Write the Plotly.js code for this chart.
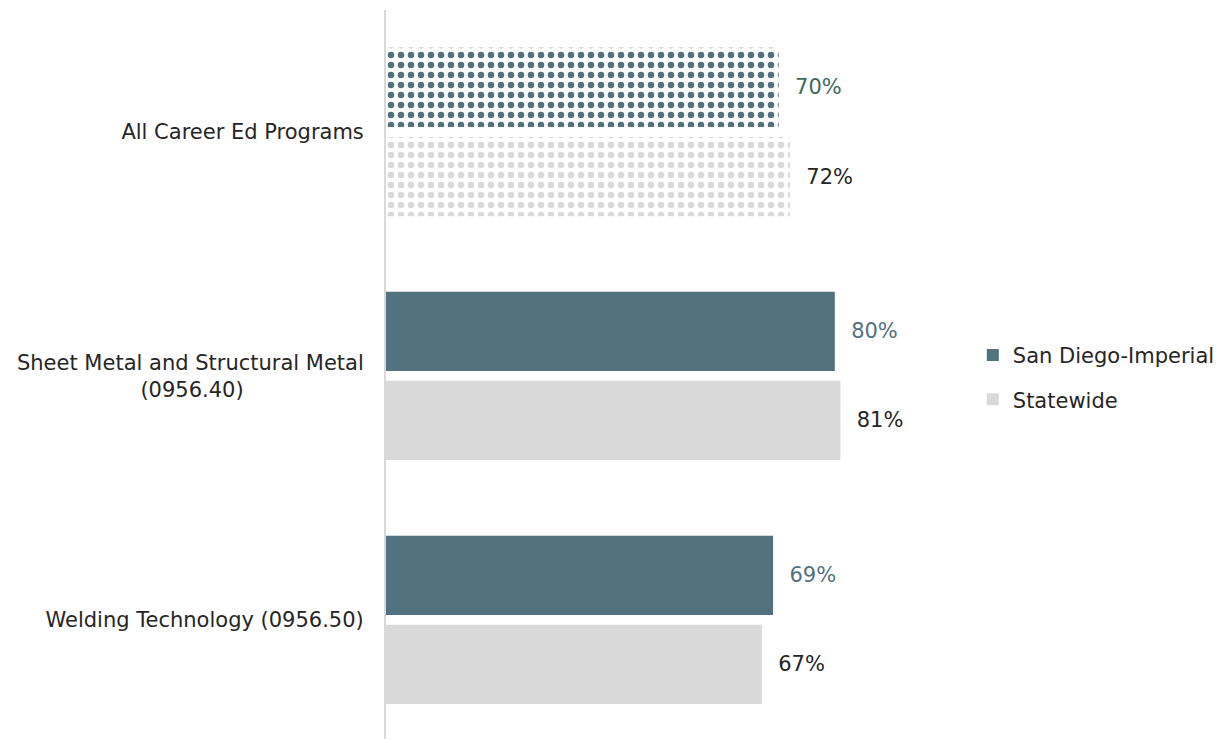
<!DOCTYPE html>
<html>
<head>
<meta charset="utf-8">
<script src="https://cdn.plot.ly/plotly-3.0.1.min.js"></script>
<style>html,body{margin:0;padding:0;background:#fff;}#chart{width:1223px;height:739px;}</style>
</head>
<body>
<div id="chart"></div>
<script>
// Data listed top-to-bottom as in the chart
const categories = ["All Career Ed Programs", "Sheet Metal and Structural Metal<br>(0956.40)", "Welding Technology (0956.50)"];
const sanDiegoImperial = [70, 80, 69];
const statewide = [72, 81, 67];
const seriesNames = ["San Diego-Imperial", "Statewide"];
const patterned = [true, false, false]; // first category drawn with a dotted pattern

const colDark = "#52727f";
const colLight = "#d9d9d9";
const font = "DejaVu Sans, sans-serif";
const pad = "\u00a0\u00a0";

// Plotly puts the first category at the bottom; reverse for drawing
const rev = a => a.slice().reverse();
const cats = rev(categories);
const pat = rev(patterned);
// centre the second line of a wrapped label (tick labels are right-aligned)
const tickTexts = cats.map(c => c.replace("<br>(0956.40)", "<br>(0956.40)" + "\u00a0".repeat(18)));

function makeTrace(name, vals, color, textColors, group, rank) {
  return {
    type: "bar", orientation: "h", name: name, legendgroup: group, legendrank: rank,
    y: cats, x: rev(vals),
    text: rev(vals).map(v => pad + v + "%"),
    textposition: "outside", cliponaxis: false,
    textfont: {family: font, size: 21, color: textColors},
    marker: {
      color: color,
      line: {width: 0},
      pattern: {
        shape: pat.map(p => p ? "." : ""),
        fillmode: "replace",
        fgcolor: color,
        bgcolor: "#ffffff",
        size: 10,
        solidity: 0.33
      }
    },
    hoverinfo: "skip"
  };
}

const sdTextColors = rev(patterned).map(p => p ? "#3d6a5c" : "#52727f");
const traces = [
  makeTrace(seriesNames[1], statewide, colLight, "#262626", "b", 2),
  makeTrace(seriesNames[0], sanDiegoImperial, colDark, sdTextColors, "a", 1)
];

const layout = {
  width: 1223, height: 739,
  margin: {l: 386, r: 276, t: 10, b: 0},
  paper_bgcolor: "#ffffff", plot_bgcolor: "#ffffff",
  barmode: "group", bargap: 0.27, bargroupgap: 0.11,
  font: {family: font, size: 21, color: "#262626"},
  xaxis: {range: [0, 100], showticklabels: false, showgrid: false, zeroline: false, showline: false, fixedrange: true},
  yaxis: {type: "category", range: [-0.488, 2.5], showline: true, linecolor: "#d9d9d9", linewidth: 2, ticks: "", ticklabelstandoff: 16,
          tickmode: "array", tickvals: cats, ticktext: tickTexts,
          tickfont: {family: font, size: 21, color: "#262626"}, showgrid: false, fixedrange: true},
  showlegend: true,
  legend: {x: 1.046, xanchor: "left", y: 0.496, yanchor: "middle", traceorder: "grouped", tracegroupgap: 14,
           font: {family: font, size: 21, color: "#262626"}, bgcolor: "rgba(0,0,0,0)"}
};

Plotly.newPlot("chart", traces, layout, {displayModeBar: false, staticPlot: true});
</script>
</body>
</html>
